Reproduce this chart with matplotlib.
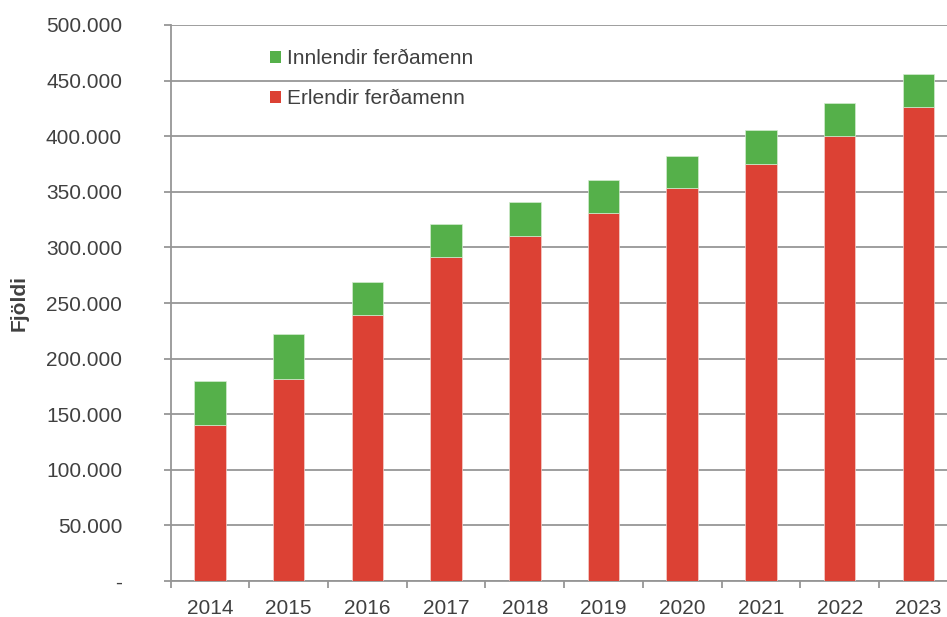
import numpy as np
import matplotlib.pyplot as plt
from matplotlib.patches import Patch
from matplotlib.ticker import FuncFormatter, FixedLocator

# Data
YEARS     = ['2014', '2015', '2016', '2017', '2018', '2019', '2020', '2021', '2022', '2023']
ERLENDIR  = [140000, 182000, 239000, 291000, 310000, 331000, 353000, 375000, 400000, 426000]
INNLENDIR = [40000, 40000, 30000, 30000, 31000, 30000, 29000, 31000, 30000, 30000]

RED   = '#DC4134'
GREEN = '#55B04A'
GRID  = '#969696'
TEXT  = '#404040'

plt.rcParams['font.family'] = ['Liberation Sans', 'DejaVu Sans']
FS = 15


def thousands(v, pos):
    if v == 0:
        return '-'
    return f'{int(v):,}'.replace(',', '.')


def main():
    fig = plt.figure(figsize=(9.47, 6.17), dpi=100)
    ax = fig.add_axes([0.1802, 0.0583, 1.0113 - 0.1802, 0.9595 - 0.0583])

    x = np.arange(len(YEARS))
    ax.bar(x, ERLENDIR, width=0.4, color=RED, edgecolor='#f4d0cc', linewidth=0.5, zorder=3)
    ax.bar(x, INNLENDIR, width=0.4, bottom=ERLENDIR, color=GREEN,
           edgecolor='#d4ecd0', linewidth=0.5, zorder=3)

    ax.set_xlim(-0.5, len(YEARS) - 0.5)
    ax.set_ylim(0, 500000)
    ax.set_yticks(np.arange(0, 500001, 50000))
    ax.yaxis.set_major_formatter(FuncFormatter(thousands))
    ax.yaxis.grid(True, color=GRID, linewidth=1.3, zorder=0)
    ax.set_axisbelow(True)

    ax.set_xticks(x)
    ax.set_xticklabels(YEARS)
    ax.xaxis.set_minor_locator(FixedLocator(np.arange(-0.5, len(YEARS), 1.0)))
    ax.tick_params(axis='x', which='major', length=0, pad=13, labelsize=FS, labelcolor=TEXT)
    ax.tick_params(axis='x', which='minor', length=5, width=1.3, color=GRID, direction='out')
    ax.tick_params(axis='y', length=5, width=1.3, color=GRID, pad=30, labelsize=FS, labelcolor=TEXT)

    for side in ['top', 'right']:
        ax.spines[side].set_visible(False)
    for side in ['left', 'bottom']:
        ax.spines[side].set_color(GRID)
        ax.spines[side].set_linewidth(1.3)

    fig.text(0.020, (0.0583 + 0.9595) / 2, 'Fjöldi', rotation=90, ha='center', va='center',
             fontsize=FS, fontweight='bold', color=TEXT)

    handles = [Patch(facecolor=GREEN, label='Innlendir ferðamenn'),
               Patch(facecolor=RED, label='Erlendir ferðamenn')]
    fig.legend(handles=handles, loc='upper left', bbox_to_anchor=(0.285, 0.92),
               frameon=False, fontsize=FS, labelcolor=TEXT, handlelength=0.55,
               handleheight=0.55, handletextpad=0.25, labelspacing=1.0,
               borderpad=0, borderaxespad=0)

    plt.savefig('out.png', dpi=100)
    plt.close()


if __name__ == '__main__':
    main()
